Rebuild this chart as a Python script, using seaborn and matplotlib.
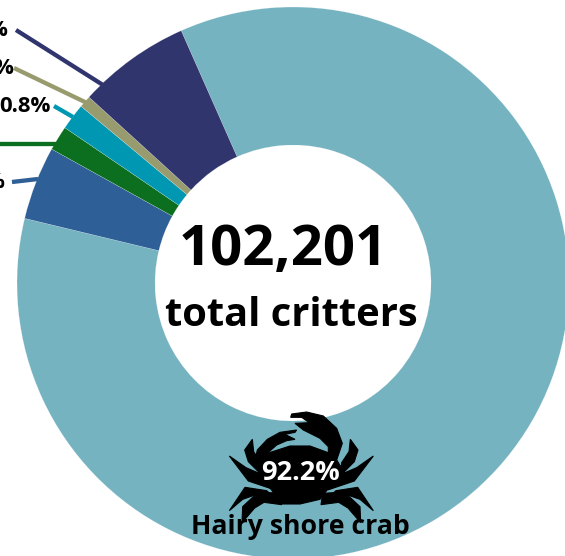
import matplotlib
matplotlib.use("Agg")
import matplotlib.pyplot as plt
from matplotlib.patches import Polygon
import seaborn as sns

species = ["Hairy shore crab", "Blue", "Green", "Teal", "Tan", "Navy"]
shares = [85.4, 4.3, 1.45, 1.55, 0.7, 6.6]
colors = ["#75B3C1", "#2E5F97", "#0B6F1F", "#0097B2", "#989B6E", "#30356E"]

total_label = "102,201"
sub_label = "total critters"
main_pct = "92.2%"

sns.set_theme(style="white")
plt.rcParams["font.family"] = ["Open Sans", "DejaVu Sans"]

W, H = 565, 556


def py(y):
    return H - y


fig = plt.figure(figsize=(W / 100, H / 100), dpi=100)
ax = fig.add_axes([0, 0, 1, 1])

# main wedge runs clockwise from 23.9 deg left of the top
ax.pie(shares, colors=sns.color_palette(colors), center=(293, py(283)), radius=276,
       startangle=90 + 23.9, counterclock=False, frame=True,
       wedgeprops=dict(width=138, edgecolor="white", linewidth=0.12))
ax.set_xlim(0, W)
ax.set_ylim(0, H)
ax.set_aspect("equal")
ax.axis("off")

# leader lines
leaders = [
    ("#30356E", (16, 30), (103, 85)),
    ("#989B6E", (14, 68), (87, 103)),
    ("#0097B2", (54, 106), (73, 117)),
    ("#0B6F1F", (0, 144), (56, 144)),
    ("#2E5F97", (12, 182), (38, 179)),
]
for c, a, b in leaders:
    ax.plot([a[0], b[0]], [py(a[1]), py(b[1])], color=c, lw=3.1, solid_capstyle="butt")

# only the ends of the other labels are inside the picture
small = [("%", 7, 31), ("%", 13, 69), ("0.8%", 51, 107), ("%", 4, 183)]
for s, x, y in small:
    ax.text(x, py(y), s, ha="right", va="center", fontsize=16, fontweight="bold", color="black")


def crab_pts(pts, mirror=False):
    out = []
    for zx, zy in pts:
        if mirror:
            zx = 728 - zx
        out.append((180 + zx / 3, py(400 + zy / 3)))
    return out


body = [(225, 180), (232, 150), (262, 118), (300, 97), (350, 90), (345, 97), (315, 103),
        (345, 118), (320, 122), (290, 135), (262, 160), (330, 138), (390, 138), (450, 160),
        (470, 180), (495, 220), (445, 265), (420, 298), (360, 312), (300, 312), (275, 270),
        (240, 228)]
claw = [(445, 165), (470, 180), (487, 130), (470, 85), (430, 48), (380, 36), (335, 42),
        (332, 52), (365, 52), (388, 68), (345, 70), (370, 90), (420, 115), (445, 140)]
legs = [
    [(245, 225), (205, 185), (194, 150), (217, 118), (221, 155), (243, 188)],
    [(285, 270), (205, 243), (148, 168), (198, 203), (252, 226), (290, 245)],
    [(260, 272), (195, 262), (148, 332), (188, 298), (222, 286), (280, 290)],
    [(300, 280), (235, 276), (188, 320), (186, 368), (224, 324), (252, 307), (305, 314)],
]
for pts in (body, claw):
    ax.add_patch(Polygon(crab_pts(pts), closed=True, fc="black", ec="black", lw=0.8))
for leg in legs:
    ax.add_patch(Polygon(crab_pts(leg), closed=True, fc="black", ec="black", lw=0.8))
    ax.add_patch(Polygon(crab_pts(leg, mirror=True), closed=True, fc="black", ec="black", lw=0.8))

ax.text(283, py(251), total_label, ha="center", va="center", fontsize=40.5, fontweight="bold", color="black")
ax.text(291, py(316), sub_label, ha="center", va="center", fontsize=28.7, fontweight="bold", color="black")
ax.text(301, py(473), main_pct, ha="center", va="center", fontsize=19.5, fontweight="bold", color="white")
ax.text(300, py(527), species[0], ha="center", va="center", fontsize=19.2, fontweight="bold", color="black")

fig.savefig("out.png", dpi=100)
